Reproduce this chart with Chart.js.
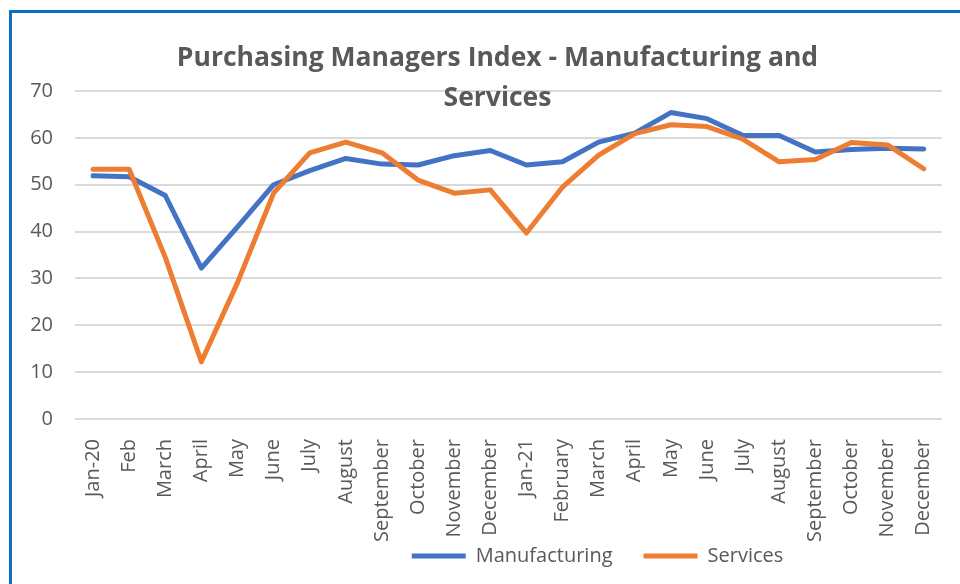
<!DOCTYPE html>
<html>
<head>
<meta charset="utf-8">
<script src="https://cdn.jsdelivr.net/npm/chart.js@4.4.1/dist/chart.umd.min.js"></script>
<style>
  html, body { margin: 0; padding: 0; background: #fff; overflow: hidden; }
  #wrap { position: relative; width: 960px; height: 584px; }
  #frame {
    position: absolute; left: 9px; top: 10px; width: 1000px; height: 1000px;
    border-left: 3px solid #0a70c4; border-top: 3px solid #0a70c4;
  }
  canvas { position: absolute; left: 0; top: 0; }
</style>
</head>
<body>
<div id="wrap">
  <div id="frame"></div>
  <canvas id="pmiChart" width="960" height="584"></canvas>
</div>
<script>
const months = ['Jan-20', 'Feb', 'March', 'April', 'May', 'June', 'July', 'August',
  'September', 'October', 'November', 'December', 'Jan-21', 'February', 'March',
  'April', 'May', 'June', 'July', 'August', 'September', 'October', 'November', 'December'];

const manufacturing = [51.9, 51.7, 47.7, 32.2, 41.0, 50.0, 53.0, 55.6, 54.4, 54.2, 56.2, 57.3,
  54.2, 54.9, 59.1, 61.0, 65.4, 64.1, 60.5, 60.5, 57.0, 57.5, 57.8, 57.6];

const services = [53.3, 53.3, 34.5, 12.2, 29.1, 48.2, 56.8, 59.1, 56.8, 51.0, 48.2, 48.9,
  39.7, 49.5, 56.3, 60.9, 62.8, 62.4, 59.7, 54.9, 55.4, 59.0, 58.5, 53.4];

const yTicks = [0, 10, 20, 30, 40, 50, 60, 70];

const textGrey = '#595959';
const fontFamily = '"Open Sans", "Liberation Sans", sans-serif';

// Excel places title and legend off Chart.js's centre, nudge the boxes after layout
const titleShiftX = 12;
const legendShiftX = 112;
const legendShiftY = -34;
const nudgeBoxes = {
    id: 'nudgeBoxes',
    afterLayout(chart) {
        const t = chart.titleBlock;
        if (t) {
            t.left += titleShiftX;
            t.right += titleShiftX;
        }
        const lg = chart.legend;
        if (lg) {
            lg.left += legendShiftX;
            lg.right += legendShiftX;
            lg.top += legendShiftY;
            lg.bottom += legendShiftY;
        }
    }
};

const ctx = document.getElementById('pmiChart').getContext('2d');

new Chart(ctx, {
    type: 'line',
    data: {
        labels: months,
        datasets: [
            {
                label: 'Manufacturing',
                data: manufacturing,
                borderColor: '#4472c4',
                backgroundColor: '#4472c4',
                borderWidth: 5,
                borderCapStyle: 'round',
                borderJoinStyle: 'round',
                pointRadius: 0,
                tension: 0,
                order: 1
            },
            {
                label: 'Services',
                data: services,
                borderColor: '#ed7d31',
                backgroundColor: '#ed7d31',
                borderWidth: 5,
                borderCapStyle: 'round',
                borderJoinStyle: 'round',
                pointRadius: 0,
                tension: 0,
                order: 0
            }
        ]
    },
    options: {
        responsive: false,
        animation: false,
        layout: {
            padding: { left: 28, right: 17, top: 0, bottom: -26 }
        },
        scales: {
            x: {
                offset: true,
                grid: { display: false },
                border: { display: false },
                ticks: {
                    autoSkip: false,
                    minRotation: 90,
                    maxRotation: 90,
                    padding: 12,
                    color: textGrey,
                    font: { family: fontFamily, size: 20 }
                },
                afterFit: (scale) => { scale.height = 130; }
            },
            y: {
                min: 0,
                max: 70,
                afterBuildTicks: (scale) => {
                    scale.ticks = yTicks.map(v => ({ value: v }));
                },
                grid: {
                    color: '#d9d9d9',
                    lineWidth: 2,
                    drawTicks: false
                },
                border: { display: false },
                ticks: {
                    padding: 22,
                    color: textGrey,
                    font: { family: fontFamily, size: 20 }
                },
                afterFit: (scale) => { scale.width = 47; }
            }
        },
        plugins: {
            title: {
                display: true,
                text: ['Purchasing Managers Index - Manufacturing and', 'Services'],
                color: textGrey,
                font: { family: fontFamily, size: 26.5, weight: 'bold', lineHeight: '40px' },
                padding: { top: 38, bottom: -27 }
            },
            legend: {
                display: true,
                position: 'bottom',
                labels: {
                    usePointStyle: true,
                    pointStyle: 'line',
                    pointStyleWidth: 54,
                    padding: 31,
                    color: textGrey,
                    font: { family: fontFamily, size: 20 },
                    sort: (a, b) => a.datasetIndex - b.datasetIndex
                }
            },
            tooltip: { enabled: false }
        }
    },
    plugins: [nudgeBoxes]
});
</script>
</body>
</html>
